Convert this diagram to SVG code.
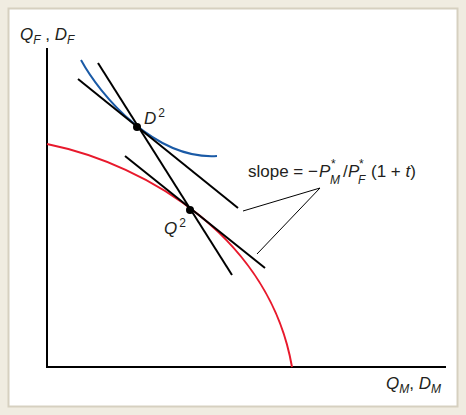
<svg xmlns="http://www.w3.org/2000/svg" width="466" height="415" viewBox="0 0 466 415">
<style>
.t{font-family:"Liberation Sans",Arial,sans-serif;font-size:17px;fill:#231f20}
.i{font-style:italic}
.s{font-size:12px}
.ax{stroke:#000;stroke-width:2;fill:none}
.tl{stroke:#000;stroke-width:2;fill:none}
.pt{stroke:#000;stroke-width:1;fill:none}
</style>
<rect x="0" y="0" width="466" height="415" fill="#f0ece1"/>
<rect x="8.5" y="8.5" width="449" height="398" fill="#fff" stroke="#d6d0c0" stroke-width="2"/>
<g id="axes">
<path class="ax" d="M47,48 V367 H446"/>
</g>
<g id="ppf">
<path d="M47,144 C150,165 270,240 292,367" fill="none" stroke="#e8192c" stroke-width="2"/>
</g>
<g id="indiff">
<path d="M81,60 C100,95 155,160 217,156" fill="none" stroke="#1a5aa6" stroke-width="2"/>
</g>
<g id="connectors">
<line class="tl" x1="78" y1="79" x2="238" y2="208"/>
<line class="tl" x1="98" y1="63" x2="232" y2="275"/>
<line class="tl" x1="125" y1="156" x2="265" y2="268"/>
<line class="pt" x1="243" y1="211" x2="320" y2="188"/>
<line class="pt" x1="257" y1="254" x2="320" y2="188"/>
</g>
<g id="D2">
<circle cx="137" cy="127" r="4" fill="#000"/>
<text class="t" x="144" y="124"><tspan class="i">D</tspan><tspan class="s" dy="-7" dx="2">2</tspan></text>
</g>
<g id="Q2">
<circle cx="190" cy="210" r="4" fill="#000"/>
<text class="t" x="164" y="234"><tspan class="i">Q</tspan><tspan class="s" dy="-7" dx="2">2</tspan></text>
</g>
<g id="slope">
<text class="t" x="248" y="177">slope = −</text>
<text class="t i" x="319" y="177">P</text>
<text class="t i s" x="330" y="184">M</text>
<text class="t s" x="331" y="168">*</text>
<text class="t" x="343" y="177">/</text>
<text class="t i" x="348" y="177">P</text>
<text class="t i s" x="358" y="184">F</text>
<text class="t s" x="359" y="168">*</text>
<text class="t" x="371" y="177">(1 + <tspan class="i">t</tspan>)</text>
</g>
<g id="ylabel">
<text class="t" x="20" y="40"><tspan class="i">Q</tspan><tspan class="s i" dy="4">F</tspan><tspan dy="-4"> , </tspan><tspan class="i">D</tspan><tspan class="s i" dy="4">F</tspan></text>
</g>
<g id="xlabel">
<text class="t" x="386" y="389"><tspan class="i">Q</tspan><tspan class="s i" dy="4">M</tspan><tspan dy="-4">, </tspan><tspan class="i">D</tspan><tspan class="s i" dy="4">M</tspan></text>
</g>
</svg>
